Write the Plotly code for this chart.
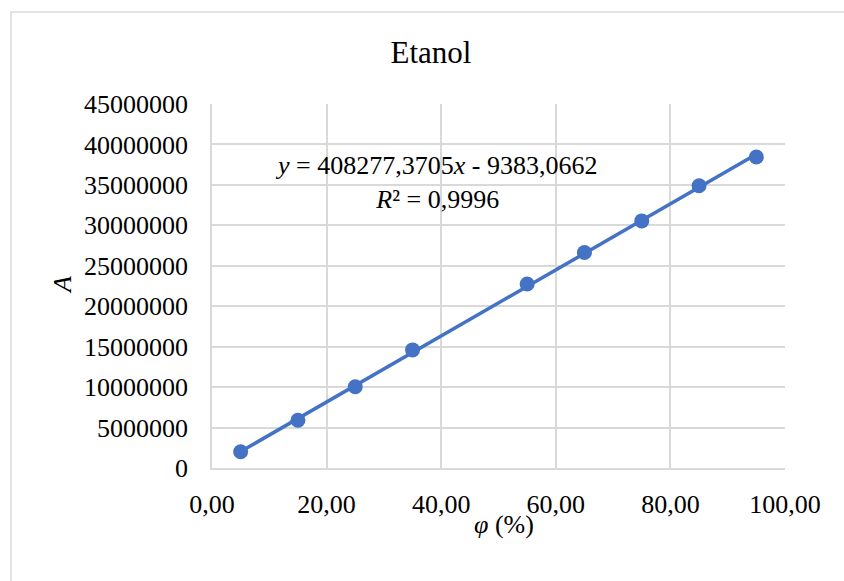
import plotly.graph_objects as go

# Data
phi = [5, 15, 25, 35, 55, 65, 75, 85, 95]
A = [2000000, 5900000, 10050000, 14600000, 22750000, 26650000, 30550000, 34900000, 38450000]
slope = 408277.3705
intercept = -9383.0662
eq_text = "<i>y</i> = 408277,3705<i>x</i> - 9383,0662<br><i>R</i>² = 0,9996"
title_text = "Etanol"
x_title = "<i>φ</i> (%)"
y_title = "<i>A</i>"

blue = "#4472c4"
font_family = "Liberation Serif, Times New Roman, serif"

# plot area in pixels
L, R, T, B = 212, 785, 104, 468
W, H = 844, 581


def px(x):
    return (x - L) / (R - L)


def py(y):
    return (B - y) / (B - T)


x_fit = [min(phi), max(phi)]
y_fit = [slope * v + intercept for v in x_fit]

fig = go.Figure()
fig.add_trace(go.Scatter(x=x_fit, y=y_fit, mode="lines",
                         line=dict(color=blue, width=3.5), hoverinfo="skip",
                         showlegend=False))
fig.add_trace(go.Scatter(x=phi, y=A, mode="markers",
                         marker=dict(color=blue, size=15),
                         showlegend=False))

fig.update_layout(
    width=W, height=H,
    margin=dict(l=L, r=W - R, t=T, b=H - B),
    paper_bgcolor="white", plot_bgcolor="white",
    separators=", ",
    font=dict(family=font_family, size=26, color="#000000"),
    title=dict(text=title_text, x=px(431), xanchor="center", xref="paper",
               y=1 - 52 / H, yanchor="middle",
               font=dict(size=31, family=font_family)),
    xaxis=dict(range=[0, 100], dtick=20, tickformat=".2f",
               showgrid=True, gridcolor="#d9d9d9", gridwidth=1.5,
               showline=True, linecolor="#d9d9d9", linewidth=1.5,
               zeroline=False, ticks="", ticklabelstandoff=12,
               tickfont=dict(size=26)),
    yaxis=dict(range=[0, 45000000], dtick=5000000, tickformat="d",
               showgrid=True, gridcolor="#d9d9d9", gridwidth=1.5,
               showline=True, linecolor="#d9d9d9", linewidth=1.5,
               zeroline=False, ticks="", ticklabelstandoff=17,
               tickfont=dict(size=26)),
    shapes=[dict(type="rect", xref="paper", yref="paper",
                 x0=px(11), x1=px(860), y0=py(600), y1=py(12),
                 line=dict(color="#d9d9d9", width=1.5), layer="below")],
    annotations=[
        dict(text=eq_text, x=px(436), y=py(182), xref="paper", yref="paper",
             xanchor="center", yanchor="middle", showarrow=False,
             font=dict(size=26, family=font_family), align="center"),
        dict(text=x_title, x=px(504), y=py(524), xref="paper", yref="paper",
             xanchor="center", yanchor="middle", showarrow=False,
             font=dict(size=26, family=font_family)),
        dict(text=y_title, x=px(62), y=py(285), xref="paper", yref="paper",
             xanchor="center", yanchor="middle", showarrow=False,
             textangle=-90, font=dict(size=26, family=font_family)),
    ],
)

fig.write_html("out.html")
